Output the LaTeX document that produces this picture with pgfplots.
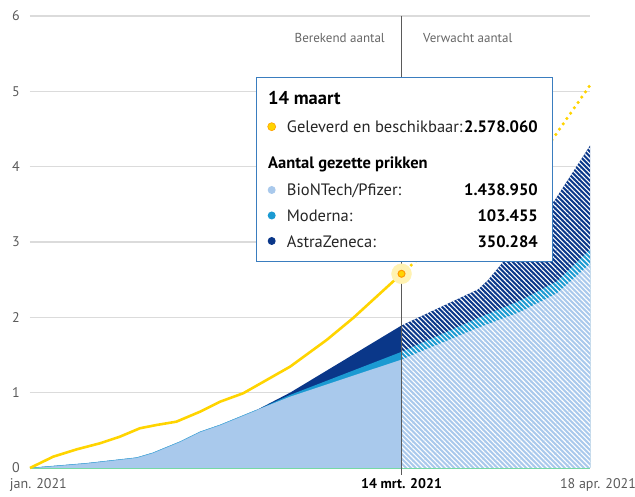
\documentclass[border=0pt]{standalone}
\usepackage{fontspec}
\setmainfont{PT Sans}
\usepackage{pgfplots}
\pgfplotsset{compat=1.18}
\usetikzlibrary{calc,patterns.meta}
\definecolor{bnt}{HTML}{A9C9EC}
\definecolor{mod}{HTML}{1B9AD2}
\definecolor{az}{HTML}{0A3789}
\definecolor{geel}{HTML}{FFD400}
\definecolor{grijs}{HTML}{5A5A5A}
\definecolor{rand}{HTML}{3A7DBF}
\tikzset{hatch/.style={postaction={pattern={Lines[angle=-45,distance=3.4pt,line width=1.1pt]},pattern color=white}}}
\newcommand{\fs}[1]{\fontsize{#1}{#1}\selectfont}

\begin{document}
\begin{tikzpicture}
\begin{axis}[
  name=ax, scale only axis, width=560pt, height=452pt,
  xmin=0, xmax=104, ymin=0, ymax=6, clip=false,
  axis line style={draw=none}, tick style={draw=none},
  ytick={0,1,2,3,4,5,6}, ymajorgrids,
  grid style={color=black!14, line width=1.3pt},
  xtick={0,69,104},
  xticklabels={{\makebox[0pt][l]{\hspace{-20pt}jan. 2021}},
               {\textbf{\color{black}14 mrt. 2021}},
               {\makebox[0pt][l]{\hspace{-30pt}18 apr. 2021}}},
  /pgf/number format/assume math mode=true,
  yticklabel style={font=\fs{14}, text=grijs, anchor=east, inner sep=0pt, xshift=-10pt},
  xticklabel style={font=\fs{14}, text=grijs, anchor=north, inner sep=0pt, yshift=-10pt},
]
% cumulative tops: AstraZeneca (all three), Moderna (+BioNTech), BioNTech
\addplot[fill=az, draw=none] coordinates {
  (0,0) (10.5,0.062) (19.8,0.137) (22.8,0.20) (27.9,0.35) (31.6,0.48)
  (35.3,0.571) (42.1,0.77) (48.3,1.00) (69,1.892) } \closedcycle;
\addplot[fill=az, draw=none, hatch] coordinates {
  (69,1.892) (83.2,2.37) (85.0,2.49) (97.5,3.56) (104,4.28) } \closedcycle;
\addplot[fill=mod, draw=none] coordinates {
  (0,0) (10.5,0.062) (19.8,0.137) (22.8,0.20) (27.9,0.35) (31.6,0.48)
  (35.3,0.571) (42.1,0.77) (48.3,0.97) (69,1.542) } \closedcycle;
\addplot[fill=mod, draw=none, hatch] coordinates {
  (69,1.542) (83.2,1.99) (91,2.22) (97.9,2.48) (104,2.90) } \closedcycle;
\addplot[fill=bnt, draw=none] coordinates {
  (0,0) (10.5,0.062) (19.8,0.137) (22.8,0.20) (27.9,0.35) (31.6,0.48)
  (35.3,0.571) (42.1,0.77) (48.3,0.947) (69,1.439) } \closedcycle;
\addplot[fill=bnt, draw=none, hatch] coordinates {
  (69,1.439) (83.2,1.86) (91,2.07) (97.9,2.32) (104,2.71) } \closedcycle;
\addplot[mod!60!bnt, line width=0.6pt] coordinates {
  (0,0) (10.5,0.062) (19.8,0.137) (22.8,0.20) (27.9,0.35) (31.6,0.48)
  (35.3,0.571) (42.1,0.77) };
\addplot[color=green!30!bnt, line width=0.8pt] coordinates {(0,0) (104,0)};
\draw[grijs, line width=1pt] (axis cs:69,6) -- (axis cs:69,-0.09);
% geleverd en beschikbaar
\addplot[geel, line width=2.6pt, line join=round] coordinates {
  (0,0) (4.3,0.15) (8.7,0.248) (13.0,0.328) (16.7,0.416) (20.4,0.527)
  (23.5,0.571) (27.2,0.615) (31.6,0.748) (35.3,0.880) (39.6,0.992)
  (48.3,1.345) (55.1,1.70) (60.0,1.99) (69,2.578) };
\addplot[geel, line width=3.5pt, line cap=round, dash pattern=on 0pt off 6.5pt] coordinates {
  (69,2.578) (97,4.36) (104,5.08) };
\addplot[only marks, color=geel!30, mark=*, mark size=10pt] coordinates {(69,2.578)};
\addplot[only marks, color=orange!70!geel, mark=*, mark size=3.5pt, mark options={fill=geel, line width=1pt}] coordinates {(69,2.578)};
\end{axis}
\coordinate (O) at ($(ax.south west)+(-30pt,468pt)$);
\begin{scope}[shift={(O)}, x=1pt, y=-1pt]
  \node[anchor=base east, inner sep=0pt, font=\fs{13}, text=black!60] at (385,43) {Berekend aantal};
  \node[anchor=base west, inner sep=0pt, font=\fs{13}, text=black!60] at (423,43) {Verwacht aantal};
  \draw[rand, line width=1pt, fill=white] (256,78) rectangle (552,262);
  \node[anchor=base west, inner sep=0pt, font=\fs{18.5}\bfseries] at (268,105) {14 maart};
  \fill[geel] (271.7,126.7) circle (4pt);
  \draw[orange!60!geel, line width=0.6pt] (271.7,126.7) circle (4pt);
  \node[anchor=base west, inner sep=0pt, font=\fs{16.5}, text=black!85] at (286.7,132.7) {Geleverd en beschikbaar:};
  \node[anchor=base east, inner sep=0pt, font=\fs{16.5}\bfseries] at (538,132.7) {2.578.060};
  \node[anchor=base west, inner sep=0pt, font=\fs{16.5}\bfseries] at (268,168.3) {Aantal gezette prikken};
  \fill[bnt] (271.7,190) circle (4pt);
  \fill[mod] (271.7,215.5) circle (4pt);
  \fill[az] (271.7,241) circle (4pt);
  \node[anchor=base west, inner sep=0pt, font=\fs{16.5}, text=black!85] at (286.7,195.5) {BioNTech/Pfizer:};
  \node[anchor=base west, inner sep=0pt, font=\fs{16.5}, text=black!85] at (286.7,221.5) {Moderna:};
  \node[anchor=base west, inner sep=0pt, font=\fs{16.5}, text=black!85] at (286.7,247.5) {AstraZeneca:};
  \node[anchor=base east, inner sep=0pt, font=\fs{16.5}\bfseries] at (538,195.5) {1.438.950};
  \node[anchor=base east, inner sep=0pt, font=\fs{16.5}\bfseries] at (538,221.5) {103.455};
  \node[anchor=base east, inner sep=0pt, font=\fs{16.5}\bfseries] at (538,247.5) {350.284};
  \pgfresetboundingbox
  \path[use as bounding box] (0,0) rectangle (635,497);
\end{scope}
\end{tikzpicture}
\end{document}
